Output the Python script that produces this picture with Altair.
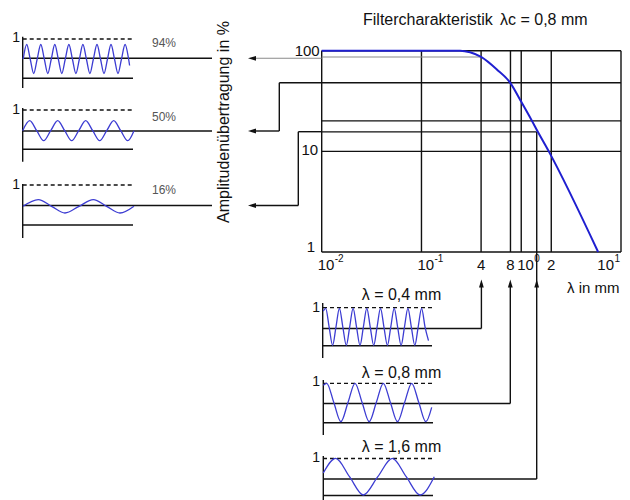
import altair as alt
import pandas as pd

# ---------------- values ----------------
# filter characteristic: wavelength (mm) -> amplitude transmission (%)
curve_lambda = [0.01, 0.244, 0.307, 0.396, 0.569, 0.779, 0.998, 1.277, 1.434, 1.883, 5.9]
curve_pct = [100, 100, 96.4, 86.6, 65.0, 47.7, 31.2, 20.2, 16.3, 10.05, 1.0]

grid_lambda = [0.01, 0.1, 0.396, 0.78, 1.0, 2.0, 10]   # vertical grid lines (incl. frame)
grid_pct = [1, 10, 20.1, 48, 100]                      # horizontal grid lines (incl. frame)
pct_94_line = 86.6      # grey line ending at lambda = 0.4 mm
pct_16_line = 15.6      # line ending at lambda = 1.6 mm
lambda_16 = 1.43
lambda_04 = 0.396

# tick labels
xl_lambda = [0.01, 0.1, 1.0]
xl_text = ["10", "10", "10"]
xl_sup = ["-2", "-1", "0"]
xd_lambda = [0.396, 0.78, 2.0]
xd_text = ["4", "8", "2"]
yl_pct = [100, 10, 1]
yl_text = ["100", "10", "1"]

# sample waves (x in px, relative amplitude v, centre line, amplitude px)
w1_x = [23.2, 26.7, 30.2, 33.7, 37.2, 40.8, 44.3, 47.8, 51.3, 54.8, 58.3, 61.8, 65.3, 68.9, 72.4, 75.9,
        79.4, 82.9, 86.4, 89.9, 93.4, 97.0, 100.5, 104.0, 107.5, 111.0, 114.5, 118.0, 121.5, 125.1, 128.6, 129.6]
w1_v = [0, 1, 0, -1, 0, 1, 0, -1, 0, 1, 0, -1, 0, 1, 0, -1,
        0, 1, 0, -1, 0, 1, 0, -1, 0, 1, 0, -1, 0, 1, 0, -0.45]
w2_x = [22.7, 29.7, 36.7, 43.7, 50.7, 57.7, 64.7, 71.7, 78.7, 85.7, 92.7, 99.7, 106.7, 113.7, 120.7, 127.7, 134.0]
w2_v = [0, 1, 0, -1, 0, 1, 0, -1, 0, 1, 0, -1, 0, 1, 0, -1, 0]
w3_x = [23, 38.3, 51.6, 65, 79, 93.3, 106.6, 120, 134]
w3_v = [0, 1, 0, -1, 0, 1, 0, -1, 0]
b1_x = [323.3, 325.7, 329.1, 332.6, 336.0, 339.4, 342.8, 346.3, 349.7, 353.1, 356.5, 360.0, 363.4, 366.8, 370.2, 373.7,
        377.1, 380.5, 383.9, 387.4, 390.8, 394.2, 397.6, 401.1, 404.5, 407.9, 411.3, 414.8, 418.2, 421.6, 425.0, 428.5]
b1_v = [0.85, 1, 0, -1, 0, 1, 0, -1, 0, 1, 0, -1, 0, 1, 0, -1,
        0, 1, 0, -1, 0, 1, 0, -1, 0, 1, 0, -1, 0, 1, 0, -0.75]
b2_x = [323.3, 326.7, 333.8, 340.9, 348.0, 355.0, 362.1, 369.2, 376.3, 383.3, 390.4, 397.5, 404.6, 411.7, 418.8, 425.8, 431.7]
b2_v = [0.9, 1, 0, -1, 0, 1, 0, -1, 0, 1, 0, -1, 0, 1, 0, -1, -0.25]
b3_x = [323.3, 335.7, 349.5, 363.3, 377.8, 392.3, 406.2, 420, 434.3]
b3_v = [0.2, 1, 0, -1, 0, 1, 0, -1, 0]

wave_names = ["w1", "w2", "w3", "b1", "b2", "b3"]
wave_xs = [w1_x, w2_x, w3_x, b1_x, b2_x, b3_x]
wave_vs = [w1_v, w2_v, w3_v, b1_v, b2_v, b3_v]
wave_centre = [59, 130.7, 206.3, 326.8, 402.5, 476.7]
wave_amp = [14.5, 10, 6.7, 18.5, 19.2, 18.3]

# diagram layout (px)
solid_segments = [
    (22.7, 22.7, 36.7, 88), (22.7, 22.7, 108, 161.7), (22.7, 22.7, 184, 238),
    (22.7, 212, 58.3, 58.3), (22.7, 133, 78.3, 78.3),
    (22.7, 212, 131, 131), (22.7, 133, 149.3, 149.3),
    (22.7, 212, 205.5, 205.5), (22.7, 133, 225, 225),
    (279.3, 321.7, 82.7, 82.7), (279.3, 279.3, 82.7, 131), (252, 279.3, 131, 131),
    (298.3, 321.7, 131.7, 131.7), (298.3, 298.3, 131.7, 205.5), (252, 298.3, 205.5, 205.5),
    (322.7, 322.7, 303, 358), (323.3, 323.3, 380, 435), (323.3, 323.3, 456, 500),
    (323, 481.4, 328.5, 328.5), (481.4, 481.4, 328.5, 283), (323, 432, 345.7, 345.7),
    (323, 510.3, 403.5, 403.5), (510.3, 510.3, 403.5, 283), (323, 433, 422.7, 422.7),
    (323, 536.7, 479, 479), (536.7, 536.7, 479, 252), (323, 433, 495.5, 495.5),
]
grey_segments = [(252, 321.7, 58.3, 58.3)]
dashed_segments = [
    (22.7, 133, 39, 39), (22.7, 133, 110, 110), (22.7, 133, 185, 185),
    (323, 433, 307.7, 307.7), (323, 433, 383.3, 383.3), (323, 433, 458.5, 458.5),
]
arrow_left_x = [252, 252, 252]
arrow_left_y = [58.3, 131, 205.5]
arrow_up_x = [481.4, 510.3, 536.7]
arrow_up_y = [283.5, 283.5, 283.5]

texts16 = ["Filtercharakteristik", "λc = 0,8 mm", "λ = 0,4 mm", "λ = 0,8 mm", "λ = 1,6 mm"]
texts16_x = [363, 500, 361.7, 361.7, 361.7]
texts16_y = [20, 20, 295, 373, 446.7]
axis_x_title = ["λ in mm"]
axis_x_title_x = [567]
axis_x_title_y = [288]
one_x = [20, 20, 20, 320, 320, 320]
one_y = [38, 110, 185, 308, 382, 458]
pct_text = ["94%", "50%", "16%"]
pct_text_x = [152, 152, 152]
pct_text_y = [43, 117, 190]

FONT = "Liberation Sans"
BLACK = "#111111"
BLUE_CURVE = "#1f1fd0"
BLUE_WAVE = "#3c3cd2"

W, H = 614, 492

# ---------------- main log-log plot ----------------
XS = alt.Scale(type="log", domain=[0.01, 10], range=[313.7, 613], nice=False)
YS = alt.Scale(type="log", domain=[1, 100], range=[244, 42.7], nice=False)


def seg_df(rows):
    return pd.DataFrame(rows, columns=["x", "x2", "y", "y2"])


grid_rows = [(g, g, 1, 100) for g in grid_lambda] + [(0.01, 10, p, p) for p in grid_pct]
grid_rows += [(0.01, lambda_16, pct_16_line, pct_16_line), (lambda_16, lambda_16, 1, pct_16_line)]

main_grid = alt.Chart(seg_df(grid_rows)).mark_rule(color=BLACK, strokeWidth=1.4).encode(
    x=alt.X("x:Q", scale=XS, axis=None), x2="x2:Q",
    y=alt.Y("y:Q", scale=YS, axis=None), y2="y2:Q")
main_grey = alt.Chart(seg_df([(0.01, lambda_04, pct_94_line, pct_94_line)])).mark_rule(
    color="#8a8a8a", strokeWidth=1.1).encode(
    x=alt.X("x:Q", scale=XS, axis=None), x2="x2:Q",
    y=alt.Y("y:Q", scale=YS, axis=None), y2="y2:Q")
curve = alt.Chart(pd.DataFrame({"lam": curve_lambda, "pct": curve_pct})).mark_line(
    color=BLUE_CURVE, strokeWidth=2, interpolate="monotone").encode(
    x=alt.X("lam:Q", scale=XS, axis=None), y=alt.Y("pct:Q", scale=YS, axis=None))


def xlab(lams, txts, align, dx, size=15, dy=0.0):
    return alt.Chart(pd.DataFrame({"lam": lams, "t": txts})).mark_text(
        align=align, baseline="middle", dx=dx, dy=dy, font=FONT, fontSize=size, color=BLACK).encode(
        x=alt.X("lam:Q", scale=XS, axis=None), y=alt.value(257), text="t:N")


def ylab(p, t, dx, dy):
    return alt.Chart(pd.DataFrame({"p": [p], "t": [t]})).mark_text(
        align="right", baseline="middle", dx=dx, dy=dy, font=FONT, fontSize=15, color=BLACK).encode(
        x=alt.X("x0:Q", scale=XS, axis=None), y=alt.Y("p:Q", scale=YS, axis=None), text="t:N"
    ).transform_calculate(x0="0.01")


main = alt.layer(
    main_grid, main_grey, curve,
    xlab(xl_lambda, xl_text, "left", -4),
    xlab(xl_lambda, xl_sup, "left", 13, size=10, dy=-6),
    xlab(xd_lambda, xd_text, "center", 0),
    xlab([10], ["10"], "right", -7),
    xlab([10], ["1"], "left", -6.5, size=10, dy=-6),
    ylab(yl_pct[0], yl_text[0], -2, 0),
    ylab(yl_pct[1], yl_text[1], -3.5, -1.5),
    ylab(yl_pct[2], yl_text[2], -6.5, -5),
)

# ---------------- diagram (pixel coordinates) ----------------
PXS = alt.Scale(domain=[8, 8 + W], range=[0, W], nice=False, zero=False)
PYS = alt.Scale(domain=[8, 8 + H], range=[0, H], nice=False, zero=False)


def pseg(rows, **kw):
    return alt.Chart(seg_df(rows)).mark_rule(**kw).encode(
        x=alt.X("x:Q", scale=PXS, axis=None), x2="x2:Q",
        y=alt.Y("y:Q", scale=PYS, axis=None), y2="y2:Q")


def ptext(txts, xs, ys, **kw):
    return alt.Chart(pd.DataFrame({"t": txts, "x": xs, "y": ys})).mark_text(font=FONT, **kw).encode(
        x=alt.X("x:Q", scale=PXS, axis=None), y=alt.Y("y:Q", scale=PYS, axis=None), text="t:N")


wave_rows = []
for name, xs, vs, c, a in zip(wave_names, wave_xs, wave_vs, wave_centre, wave_amp):
    for i, (xv, vv) in enumerate(zip(xs, vs)):
        wave_rows.append({"panel": name, "i": i, "x": xv, "v": vv, "c": c, "a": a})
waves = alt.Chart(pd.DataFrame(wave_rows)).transform_calculate(
    yy="datum.c - datum.a * datum.v").mark_line(
    color=BLUE_WAVE, strokeWidth=1.3, interpolate="monotone").encode(
    x=alt.X("x:Q", scale=PXS, axis=None), y=alt.Y("yy:Q", scale=PYS, axis=None),
    detail="panel:N", order="i:Q")

arrows_left = alt.Chart(pd.DataFrame({"x": arrow_left_x, "y": arrow_left_y})).mark_point(
    shape="M-1,0L1,-0.6L1,0.6Z", size=64, filled=True, opacity=1, color=BLACK).encode(
    x=alt.X("x:Q", scale=PXS, axis=None), y=alt.Y("y:Q", scale=PYS, axis=None))
arrows_up = alt.Chart(pd.DataFrame({"x": arrow_up_x, "y": arrow_up_y})).mark_point(
    shape="M0,-1L-0.6,1L0.6,1Z", size=64, filled=True, opacity=1, color=BLACK).encode(
    x=alt.X("x:Q", scale=PXS, axis=None), y=alt.Y("y:Q", scale=PYS, axis=None))

ytitle = ptext(["Amplitudenübertragung in %"], [224], [122], angle=270, align="center",
               baseline="middle", fontSize=16, color=BLACK)

diagram = alt.layer(
    pseg(dashed_segments, color=BLACK, strokeWidth=1.3, strokeDash=[4, 3]),
    pseg(grey_segments, color="#8a8a8a", strokeWidth=1.1),
    pseg(solid_segments, color=BLACK, strokeWidth=1.4),
    waves, arrows_left, arrows_up,
    ptext(texts16, texts16_x, texts16_y, align="left", baseline="middle", fontSize=16, color=BLACK),
    ptext(axis_x_title, axis_x_title_x, axis_x_title_y, align="left", baseline="middle",
          fontSize=15, color=BLACK),
    ptext(["1"] * 6, one_x, one_y, align="right", baseline="middle", fontSize=14, color=BLACK),
    ptext(pct_text, pct_text_x, pct_text_y, align="left", baseline="middle", fontSize=12, color="#555555"),
    ytitle,
)

chart = alt.layer(main, diagram).resolve_scale(x="independent", y="independent").properties(
    width=W, height=H, padding=0, autosize=alt.AutoSizeParams(type="none")
).configure_view(stroke=None)

chart.save("out.html", embed_options={"renderer": "svg", "actions": False})
